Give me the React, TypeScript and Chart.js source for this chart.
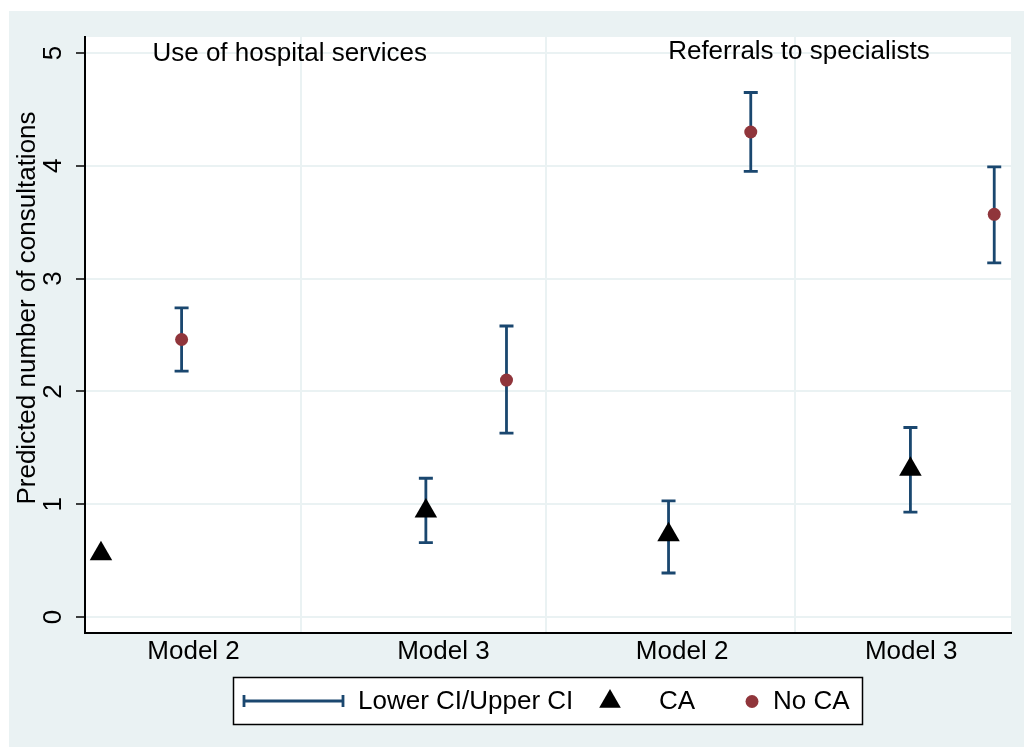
import React, { useEffect, useRef } from "react";
import { Chart, registerables } from "chart.js";

Chart.register(...registerables);

// ---- data ----
const xLabels = ["Model 2", "Model 3", "Model 2", "Model 3"];
const xLabelPos = [1.36, 4.49, 7.48, 10.35];
const gridPos = [2.71, 5.78, 8.89];
const yTicks = [0, 1, 2, 3, 4, 5];

const caX = [0.2, 4.27, 7.31, 10.34];
const caY = [0.56, 0.94, 0.73, 1.31];
const caLo: (number | null)[] = [null, 0.66, 0.39, 0.93];
const caHi: (number | null)[] = [null, 1.23, 1.03, 1.68];

const noCaX = [1.21, 5.28, 8.34, 11.39];
const noCaY = [2.46, 2.1, 4.3, 3.57];
const noCaLo: (number | null)[] = [2.18, 1.63, 3.95, 3.14];
const noCaHi: (number | null)[] = [2.74, 2.58, 4.65, 3.99];

const panelTitles = ["Use of hospital services", "Referrals to specialists"];
const panelTitleX = [0.845, 7.305];
const panelTitleY = [4.99, 5.01];

const yTitle = "Predicted number of consultations";
const legendLabels = ["Lower CI/Upper CI", "CA", "No CA"];

// ---- styles ----
const FONT = '"Liberation Sans", Arial, sans-serif';
const FS = 26;
const BG = "#EAF2F3";
const NAVY = "#1A476F";
const MAROON = "#90353B";

export default function App() {
  const ref = useRef<HTMLCanvasElement | null>(null);

  useEffect(() => {
    if (!ref.current) return;

    const bgPlugin = {
      id: "bgPlugin",
      beforeDraw(chart: any) {
        const { ctx, chartArea } = chart;
        ctx.save();
        ctx.fillStyle = "#fff";
        ctx.fillRect(0, 0, chart.width, chart.height);
        ctx.fillStyle = BG;
        ctx.fillRect(9, 11, chart.width - 9, 736);
        ctx.fillStyle = "#fff";
        ctx.fillRect(chartArea.left, chartArea.top, chartArea.right - chartArea.left, chartArea.bottom - chartArea.top);
        ctx.restore();
      },
      beforeDatasetsDraw(chart: any) {
        const { ctx, chartArea } = chart;
        const xs = chart.scales.x;
        const ys = chart.scales.y;
        ctx.save();
        // vertical grid lines
        ctx.strokeStyle = BG;
        ctx.lineWidth = 2;
        gridPos.forEach((g) => {
          const px = Math.round(xs.getPixelForValue(g));
          ctx.beginPath();
          ctx.moveTo(px, chartArea.top);
          ctx.lineTo(px, chartArea.bottom - 1);
          ctx.stroke();
        });
        // error bars
        ctx.strokeStyle = NAVY;
        ctx.lineWidth = 2.8;
        const drawBars = (xsArr: number[], lo: (number | null)[], hi: (number | null)[]) => {
          xsArr.forEach((x, i) => {
            const l = lo[i];
            const h = hi[i];
            if (l == null || h == null) return;
            const px = xs.getPixelForValue(x);
            const pl = ys.getPixelForValue(l);
            const ph = ys.getPixelForValue(h);
            ctx.beginPath();
            ctx.moveTo(px, pl);
            ctx.lineTo(px, ph);
            ctx.moveTo(px - 7, pl);
            ctx.lineTo(px + 7, pl);
            ctx.moveTo(px - 7, ph);
            ctx.lineTo(px + 7, ph);
            ctx.stroke();
          });
        };
        drawBars(caX, caLo, caHi);
        drawBars(noCaX, noCaLo, noCaHi);
        ctx.restore();
      },
      afterDraw(chart: any) {
        const { ctx } = chart;
        const xs = chart.scales.x;
        const ys = chart.scales.y;
        ctx.save();
        ctx.fillStyle = "#000";
        ctx.font = `${FS}px ${FONT}`;
        // panel titles
        ctx.textAlign = "left";
        ctx.textBaseline = "middle";
        panelTitles.forEach((t, i) => {
          ctx.fillText(t, xs.getPixelForValue(panelTitleX[i]), ys.getPixelForValue(panelTitleY[i]));
        });
        // y title
        ctx.save();
        ctx.translate(35, 308);
        ctx.rotate(-Math.PI / 2);
        ctx.textAlign = "center";
        ctx.textBaseline = "alphabetic";
        ctx.fillText(yTitle, 0, 0);
        ctx.restore();

        // legend
        const bx = 233.5, by = 677.5, bw = 629, bh = 47;
        ctx.fillStyle = "#fff";
        ctx.fillRect(bx, by, bw, bh);
        ctx.strokeStyle = "#000";
        ctx.lineWidth = 1.5;
        ctx.strokeRect(bx, by, bw, bh);
        const ly = 701;
        ctx.strokeStyle = NAVY;
        ctx.lineWidth = 2.8;
        ctx.beginPath();
        ctx.moveTo(244, ly);
        ctx.lineTo(343, ly);
        ctx.moveTo(244, ly - 6);
        ctx.lineTo(244, ly + 6);
        ctx.moveTo(343, ly - 6);
        ctx.lineTo(343, ly + 6);
        ctx.stroke();
        // triangle
        const r = 12.5;
        const tcx = 610, tcy = 701.5;
        ctx.fillStyle = "#000";
        ctx.beginPath();
        ctx.moveTo(tcx, tcy - r);
        ctx.lineTo(tcx + r * Math.sin((2 * Math.PI) / 3), tcy - r * Math.cos((2 * Math.PI) / 3));
        ctx.lineTo(tcx + r * Math.sin((4 * Math.PI) / 3), tcy - r * Math.cos((4 * Math.PI) / 3));
        ctx.closePath();
        ctx.fill();
        // dot
        ctx.fillStyle = MAROON;
        ctx.beginPath();
        ctx.arc(752, 701.5, 6.5, 0, Math.PI * 2);
        ctx.fill();
        ctx.fillStyle = "#000";
        ctx.textAlign = "left";
        ctx.textBaseline = "middle";
        ctx.fillText(legendLabels[0], 358, 702);
        ctx.fillText(legendLabels[1], 659, 702);
        ctx.fillText(legendLabels[2], 773, 702);
        ctx.restore();
      },
    };

    const chart = new Chart(ref.current, {
      type: "scatter",
      data: {
        datasets: [
          {
            label: "CA",
            data: caX.map((x, i) => ({ x, y: caY[i] })),
            pointStyle: "triangle",
            pointRadius: 13,
            pointBackgroundColor: "#000",
            pointBorderColor: "#000",
            pointBorderWidth: 0,
          },
          {
            label: "No CA",
            data: noCaX.map((x, i) => ({ x, y: noCaY[i] })),
            pointStyle: "circle",
            pointRadius: 6.5,
            pointBackgroundColor: MAROON,
            pointBorderColor: MAROON,
            pointBorderWidth: 0,
          },
        ],
      },
      options: {
        animation: false,
        responsive: false,
        devicePixelRatio: 1,
        layout: { padding: { left: 0, top: 37, right: 11, bottom: 0 } },
        plugins: {
          legend: { display: false },
          tooltip: { enabled: false },
        },
        scales: {
          x: {
            type: "linear",
            min: 0,
            max: 11.6,
            afterBuildTicks: (s: any) => {
              s.ticks = xLabelPos.map((v) => ({ value: v }));
            },
            afterFit: (s: any) => {
              s.height = 120;
            },
            ticks: {
              callback: (_v: any, i: number) => xLabels[i],
              font: { family: FONT, size: FS },
              color: "#000",
              padding: 3,
              maxRotation: 0,
              minRotation: 0,
              autoSkip: false,
            },
            grid: { display: false, drawTicks: false },
            border: { display: true, color: "#000", width: 2 },
          },
          y: {
            type: "linear",
            min: -0.142,
            max: 5.142,
            afterBuildTicks: (s: any) => {
              s.ticks = yTicks.map((v) => ({ value: v }));
            },
            afterFit: (s: any) => {
              s.width = 85;
            },
            ticks: {
              font: { family: FONT, size: FS },
              color: "#000",
              minRotation: 90,
              maxRotation: 90,
              crossAlign: "center",
              padding: 15,
              autoSkip: false,
            },
            grid: {
              color: BG,
              lineWidth: 2,
              tickColor: "#000",
              tickLength: 9,
              tickWidth: 1.5,
            },
            border: { display: true, color: "#000", width: 2 },
          },
        },
      },
      plugins: [bgPlugin],
    } as any);

    return () => chart.destroy();
  }, []);

  return (
    <div style={{ position: "absolute", left: 0, top: 0, width: 1024, height: 753 }}>
      <canvas ref={ref} width={1024} height={753} style={{ display: "block" }} />
    </div>
  );
}
